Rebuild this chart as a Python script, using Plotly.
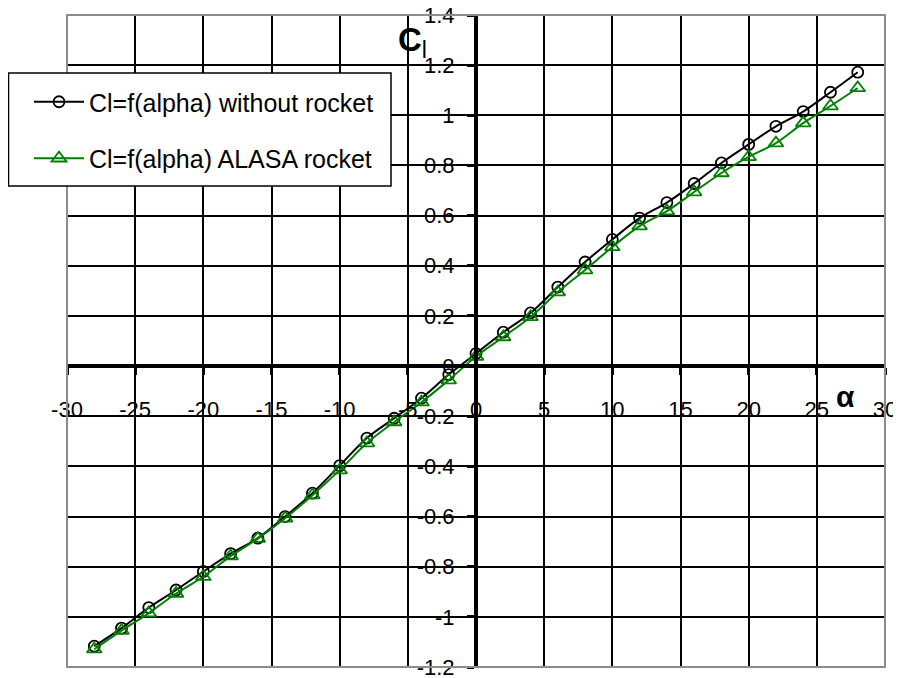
import plotly.graph_objects as go

alpha = [-28, -26, -24, -22, -20, -18, -16, -14, -12, -10, -8, -6, -4, -2,
         0, 2, 4, 6, 8, 10, 12, 14, 16, 18, 20, 22, 24, 26, 28]
cl_without = [-1.117, -1.045, -0.963, -0.893, -0.819, -0.748, -0.686, -0.600,
              -0.507, -0.397, -0.287, -0.208, -0.128, -0.034,
              0.050, 0.135, 0.212, 0.315, 0.415, 0.505, 0.590, 0.652, 0.728,
              0.810, 0.884, 0.956, 1.015, 1.092, 1.172]
cl_alasa = [-1.129, -1.055, -0.985, -0.907, -0.840, -0.758, -0.688, -0.607,
            -0.515, -0.415, -0.307, -0.223, -0.144, -0.056,
            0.038, 0.116, 0.196, 0.295, 0.383, 0.475, 0.558, 0.618, 0.694,
            0.770, 0.834, 0.889, 0.969, 1.037, 1.109]

x_ticks = [-30, -25, -20, -15, -10, -5, 0, 5, 10, 15, 20, 25, 30]
y_ticks = [-1.2, -1, -0.8, -0.6, -0.4, -0.2, 0, 0.2, 0.4, 0.6, 0.8, 1, 1.2, 1.4]
y_tick_text = ["-1.2", "-1", "-0.8", "-0.6", "-0.4", "-0.2", "0", "0.2", "0.4",
               "0.6", "0.8", "1", "1.2", "1.4"]

FONT = "Liberation Sans, Arial, sans-serif"
GREEN = "#008000"

# page body has an 8px default margin; figure is offset by it
OFF = 8
W, H = 901 - OFF, 678 - OFF
PL, PR, PT, PB = 67, 885, 15, 667          # plot area in screen pixels
L, R, T, B = PL - OFF, (OFF + W) - PR, PT - OFF, (OFF + H) - PB
PW, PH = PR - PL, PB - PT


def px_x(px):
    return (px - PL) / PW


def px_y(py):
    return (PB - py) / PH


fig = go.Figure()
fig.add_trace(go.Scatter(
    x=alpha, y=cl_without, mode="lines+markers",
    name="Cl=f(alpha) without rocket", legendgroup="a",
    line=dict(color="black", width=2, shape="spline"),
    marker=dict(symbol="circle-open", size=11, color="black", line=dict(width=1.8)),
))
fig.add_trace(go.Scatter(
    x=alpha, y=cl_alasa, mode="lines+markers",
    name="Cl=f(alpha) ALASA rocket", legendgroup="b",
    line=dict(color=GREEN, width=2, shape="spline"),
    marker=dict(symbol="triangle-up-open", size=13, color=GREEN, line=dict(width=1.8)),
))

y0_pos = (0 - (-1.2)) / (1.4 - (-1.2))

fig.update_layout(
    width=W, height=H,
    margin=dict(l=L, r=R, t=T, b=B, autoexpand=False),
    paper_bgcolor="white", plot_bgcolor="white",
    font=dict(family=FONT, color="black", size=21),
    showlegend=True,
    legend=dict(
        x=px_x(29), y=px_y(79), xanchor="left", yanchor="top",
        bgcolor="rgba(0,0,0,0)", borderwidth=0,
        font=dict(family=FONT, size=25, color="black"),
        tracegroupgap=21, traceorder="grouped", itemwidth=50,
    ),
    xaxis=dict(
        range=[-30, 30], tickmode="array", tickvals=x_ticks,
        ticktext=[str(v) for v in x_ticks],
        showgrid=True, gridcolor="black", gridwidth=1.6,
        zeroline=False, showline=True, linecolor="black", linewidth=4,
        anchor="free", position=y0_pos, automargin=False,
        ticks="outside", ticklen=7, tickwidth=3, tickcolor="black",
        ticklabelstandoff=16, ticklabeloverflow="allow",
        tickfont=dict(size=22),
    ),
    yaxis=dict(
        range=[-1.2, 1.4], tickmode="array", tickvals=y_ticks,
        ticktext=y_tick_text,
        showgrid=True, gridcolor="black", gridwidth=1.6,
        zeroline=False, showline=True, linecolor="black", linewidth=4,
        anchor="free", position=0.5, automargin=False,
        ticks="outside", ticklen=7, tickwidth=3, tickcolor="black",
        ticklabelstandoff=8, ticklabeloverflow="allow",
        tickfont=dict(size=22),
    ),
    shapes=[
        dict(type="rect", xref="paper", yref="paper", x0=0, y0=0, x1=1, y1=1,
             line=dict(color="#8c8c8c", width=2), layer="above"),
        dict(type="rect", xref="paper", yref="paper",
             x0=px_x(8.5), x1=px_x(391), y0=px_y(186), y1=px_y(73),
             line=dict(color="black", width=1.5), fillcolor="white", layer="above"),
    ],
    annotations=[
        dict(text="<b>C</b><sub>l</sub>", xref="paper", yref="paper",
             x=px_x(412), y=px_y(42), showarrow=False,
             font=dict(family=FONT, size=33, color="black"),
             xanchor="center", yanchor="middle"),
        dict(text="<b>α</b>", xref="paper", yref="paper",
             x=px_x(845), y=px_y(396), showarrow=False,
             font=dict(family=FONT, size=30, color="black"),
             xanchor="center", yanchor="middle"),
    ],
)

fig.write_html("out.html")
